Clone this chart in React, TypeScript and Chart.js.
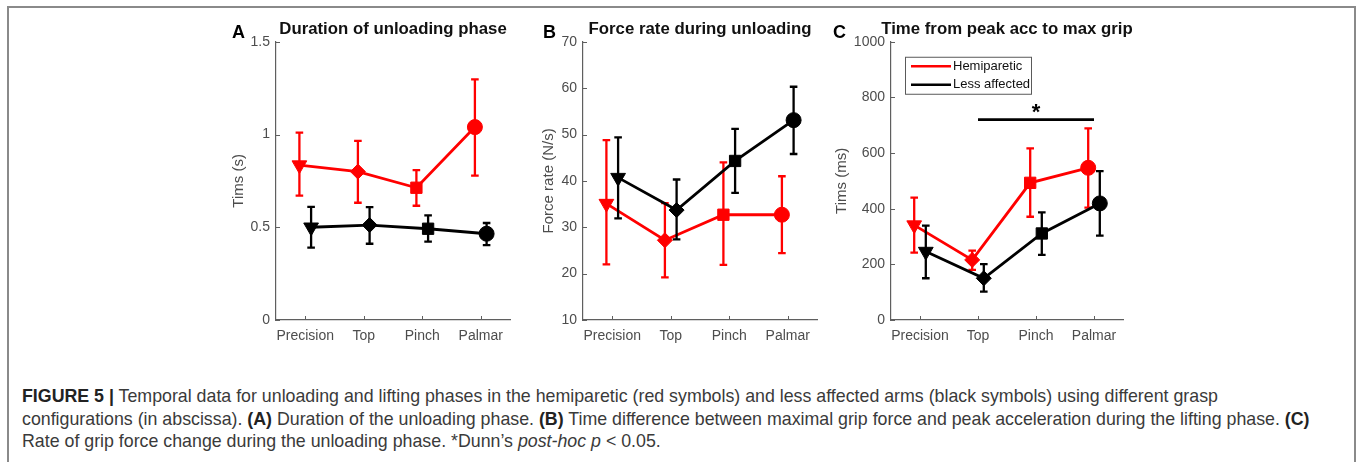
import React, { useEffect, useRef } from 'react';
import { Chart, registerables } from 'chart.js';

Chart.register(...registerables);

// ---------- data ----------
const categories = ['Precision', 'Top', 'Pinch', 'Palmar'];
const categoryPositions = [1, 2, 3, 4];
const seriesLabels = ['Hemiparetic', 'Less affected'];

// Panel A: duration of unloading phase (s)
const durationHemi = [0.835, 0.8, 0.713, 1.04];
const durationHemiLow = [0.67, 0.632, 0.616, 0.778];
const durationHemiHigh = [1.01, 0.966, 0.808, 1.297];
const durationLess = [0.5, 0.512, 0.492, 0.465];
const durationLessLow = [0.39, 0.411, 0.422, 0.404];
const durationLessHigh = [0.61, 0.609, 0.564, 0.523];
const durationTicks = [0, 0.5, 1, 1.5];

// Panel B: force rate during unloading (N/s)
const forceHemi = [35.1, 27.2, 32.7, 32.7];
const forceHemiLow = [22.0, 19.2, 21.9, 24.4];
const forceHemiHigh = [48.8, 35.2, 44.0, 41.0];
const forceLess = [40.7, 33.7, 44.3, 53.1];
const forceLessLow = [31.9, 27.4, 37.4, 45.8];
const forceLessHigh = [49.4, 40.3, 51.2, 60.3];
const forceTicks = [10, 20, 30, 40, 50, 60, 70];

// Panel C: time from peak acc to max grip (ms)
const timeHemi = [341, 216, 493, 547];
const timeHemiLow = [242, 180, 371, 404];
const timeHemiHigh = [440, 249, 617, 689];
const timeLess = [246, 150, 311, 419];
const timeLessLow = [150, 102, 234, 303];
const timeLessHigh = [339, 201, 387, 535];
const timeTicks = [0, 200, 400, 600, 800, 1000];
const sigFrom = 'Top';
const sigTo = 'Palmar';
const sigValue = 720;
const sigMark = '*';

// ---------- style ----------
const FONT = "'Liberation Sans', Arial, Helvetica, sans-serif";
const RED = '#ff0000';
const BLACK = '#000000';
const AXIS = '#5f5f5f';
const TICK = '#4d4d4d';
const DODGE = 0.1;
const CANVAS_H = 350;
const markerStyles = ['triangle', 'rectRot', 'rect', 'circle'];
const markerRotations = [180, 0, 0, 0];
const markerRadii = [8.5, 7.5, 8, 7.5];

Chart.defaults.font.family = FONT;

type PanelSpec = {
  letter: string;
  title: string;
  yTitle: string;
  hemi: number[];
  hemiLow: number[];
  hemiHigh: number[];
  less: number[];
  lessLow: number[];
  lessHigh: number[];
  yTicks: number[];
  left: number;
  axisWidth: number;
  plotWidth: number;
  letterOffset: number;
  legend: boolean;
  sig: boolean;
};

const panels: PanelSpec[] = [
  {
    letter: 'A', title: 'Duration of unloading phase', yTitle: 'Tims (s)',
    hemi: durationHemi, hemiLow: durationHemiLow, hemiHigh: durationHemiHigh,
    less: durationLess, lessLow: durationLessLow, lessHigh: durationLessHigh,
    yTicks: durationTicks, left: 226, axisWidth: 50, plotWidth: 234, letterOffset: 44,
    legend: false, sig: false,
  },
  {
    letter: 'B', title: 'Force rate during unloading', yTitle: 'Force rate (N/s)',
    hemi: forceHemi, hemiLow: forceHemiLow, hemiHigh: forceHemiHigh,
    less: forceLess, lessLow: forceLessLow, lessHigh: forceLessHigh,
    yTicks: forceTicks, left: 536, axisWidth: 47, plotWidth: 234, letterOffset: 40,
    legend: false, sig: false,
  },
  {
    letter: 'C', title: 'Time from peak acc to max grip', yTitle: 'Tims (ms)',
    hemi: timeHemi, hemiLow: timeHemiLow, hemiHigh: timeHemiHigh,
    less: timeLess, lessLow: timeLessLow, lessHigh: timeLessHigh,
    yTicks: timeTicks, left: 829, axisWidth: 62, plotWidth: 232, letterOffset: 58,
    legend: true, sig: true,
  },
];

function makeDecorPlugin(panel: PanelSpec) {
  return {
    id: 'panelDecor',
    beforeDatasetDraw(chart: any, args: any) {
      const ds = chart.data.datasets[args.index];
      const ys = chart.scales.y;
      const ctx = chart.ctx;
      ctx.save();
      ctx.strokeStyle = ds.borderColor;
      ctx.lineWidth = 2.3;
      args.meta.data.forEach((pt: any, i: number) => {
        const x = pt.x;
        const yl = ys.getPixelForValue(ds.errLow[i]);
        const yh = ys.getPixelForValue(ds.errHigh[i]);
        ctx.beginPath();
        ctx.moveTo(x, yl);
        ctx.lineTo(x, yh);
        ctx.moveTo(x - 3.8, yl);
        ctx.lineTo(x + 3.8, yl);
        ctx.moveTo(x - 3.8, yh);
        ctx.lineTo(x + 3.8, yh);
        ctx.stroke();
      });
      ctx.restore();
    },
    afterDraw(chart: any) {
      const ctx = chart.ctx;
      const area = chart.chartArea;
      const xs = chart.scales.x;
      const ys = chart.scales.y;
      ctx.save();
      // inward tick marks
      ctx.strokeStyle = AXIS;
      ctx.lineWidth = 1;
      ctx.beginPath();
      xs.ticks.forEach((t: any) => {
        const px = Math.round(xs.getPixelForValue(t.value)) + 0.5;
        ctx.moveTo(px, area.bottom);
        ctx.lineTo(px, area.bottom - 4);
      });
      ys.ticks.forEach((t: any) => {
        const py = Math.round(ys.getPixelForValue(t.value)) + 0.5;
        ctx.moveTo(area.left, py);
        ctx.lineTo(area.left + 4, py);
      });
      ctx.stroke();

      // panel letter
      ctx.fillStyle = '#000';
      ctx.font = `bold 18px ${FONT}`;
      ctx.textAlign = 'left';
      ctx.textBaseline = 'middle';
      ctx.fillText(panel.letter, area.left - panel.letterOffset, 33);

      // significance bar
      if (panel.sig) {
        const x1 = xs.getPixelForValue(categoryPositions[categories.indexOf(sigFrom)]);
        const x2 = xs.getPixelForValue(categoryPositions[categories.indexOf(sigTo)]);
        const yb = ys.getPixelForValue(sigValue);
        ctx.strokeStyle = '#000';
        ctx.lineWidth = 2.6;
        ctx.beginPath();
        ctx.moveTo(x1, yb);
        ctx.lineTo(x2, yb);
        ctx.stroke();
        ctx.fillStyle = '#000';
        ctx.font = `bold 22px ${FONT}`;
        ctx.textAlign = 'center';
        ctx.textBaseline = 'alphabetic';
        ctx.fillText(sigMark, (x1 + x2) / 2, yb - 1);
      }

      // legend box
      if (panel.legend) {
        const lx = area.left + 14;
        const ly = area.top + 15;
        const lw = 126;
        const lh = 37;
        ctx.fillStyle = '#fff';
        ctx.fillRect(lx, ly, lw, lh);
        ctx.strokeStyle = '#5a5a5a';
        ctx.lineWidth = 1;
        ctx.strokeRect(lx + 0.5, ly + 0.5, lw, lh);
        chart.data.datasets.forEach((ds: any, i: number) => {
          const yy = ly + 9.5 + i * 18.5;
          ctx.strokeStyle = ds.borderColor;
          ctx.lineWidth = 2.6;
          ctx.beginPath();
          ctx.moveTo(lx + 6, yy);
          ctx.lineTo(lx + 46, yy);
          ctx.stroke();
          ctx.fillStyle = '#111';
          ctx.font = `13px ${FONT}`;
          ctx.textAlign = 'left';
          ctx.textBaseline = 'middle';
          ctx.fillText(ds.label, lx + 48, yy);
        });
      }
      ctx.restore();
    },
  };
}

function buildConfig(panel: PanelSpec): any {
  const makeSeries = (label: string, vals: number[], lo: number[], hi: number[], color: string, dx: number, order: number) => ({
    label,
    data: vals.map((v, i) => ({ x: categoryPositions[i] + dx, y: v })),
    errLow: lo,
    errHigh: hi,
    borderColor: color,
    backgroundColor: color,
    borderWidth: 2.8,
    pointStyle: markerStyles,
    pointRotation: markerRotations,
    pointRadius: markerRadii,
    pointBorderWidth: 1,
    pointBackgroundColor: color,
    pointBorderColor: color,
    tension: 0,
    order,
    clip: false,
    yAxisID: 'y',
  });
  const yMin = panel.yTicks[0];
  const yMax = panel.yTicks[panel.yTicks.length - 1];
  return {
    type: 'line',
    data: {
      datasets: [
        makeSeries(seriesLabels[0], panel.hemi, panel.hemiLow, panel.hemiHigh, RED, -DODGE, 2),
        makeSeries(seriesLabels[1], panel.less, panel.lessLow, panel.lessHigh, BLACK, DODGE, 1),
      ],
    },
    options: {
      responsive: false,
      animation: false,
      events: [],
      layout: { padding: 0 },
      plugins: {
        legend: { display: false },
        tooltip: { enabled: false },
        title: {
          display: true,
          text: panel.title,
          color: '#111',
          font: { family: FONT, size: 16.8, weight: 'bold' },
          padding: { top: 19, bottom: 2.6 },
        },
      },
      scales: {
        x: {
          type: 'linear',
          min: 0.5,
          max: 4.5,
          grid: { display: false, drawTicks: false, tickLength: 0 },
          border: { display: true, color: AXIS, width: 1.2 },
          afterBuildTicks: (s: any) => {
            s.ticks = categoryPositions.map((v) => ({ value: v }));
          },
          ticks: {
            autoSkip: false,
            maxRotation: 0,
            padding: 8,
            color: TICK,
            font: { family: FONT, size: 14 },
            callback: (_v: any, i: number) => categories[i],
          },
          afterFit: (s: any) => {
            s.height = 30;
          },
        },
        y: {
          type: 'linear',
          position: 'left',
          min: yMin,
          max: yMax,
          grid: { display: false, drawTicks: false, tickLength: 0 },
          border: { display: true, color: AXIS, width: 1.2 },
          afterBuildTicks: (s: any) => {
            s.ticks = panel.yTicks.map((v) => ({ value: v }));
          },
          ticks: {
            padding: 6,
            color: TICK,
            font: { family: FONT, size: 14 },
            callback: (v: any) => String(v),
          },
          title: {
            display: true,
            text: panel.yTitle,
            color: TICK,
            font: { family: FONT, size: 15 },
            padding: { top: 4, bottom: 0 },
          },
          afterFit: (s: any) => {
            s.width = panel.axisWidth;
          },
        },
        spacer: {
          type: 'linear',
          position: 'right',
          display: true,
          grid: { display: false, drawTicks: false, tickLength: 0 },
          border: { display: false },
          ticks: { display: false },
          afterFit: (s: any) => {
            s.width = panel.axisWidth;
          },
        },
      },
    },
    plugins: [makeDecorPlugin(panel)],
  };
}

function PanelChart({ panel }: { panel: PanelSpec }) {
  const ref = useRef<HTMLCanvasElement>(null);
  useEffect(() => {
    const chart = new Chart(ref.current as HTMLCanvasElement, buildConfig(panel));
    return () => chart.destroy();
  }, [panel]);
  const width = panel.plotWidth + 2 * panel.axisWidth;
  return (
    <canvas
      ref={ref}
      width={width}
      height={CANVAS_H}
      style={{ position: 'absolute', left: panel.left, top: 0, width, height: CANVAS_H }}
    />
  );
}

export default function App() {
  return (
    <div
      style={{
        position: 'absolute',
        left: 0,
        top: 0,
        width: 1357,
        height: 462,
        overflow: 'hidden',
        background: '#fff',
      }}
    >
      <div
        style={{
          position: 'absolute',
          left: 7,
          top: 6,
          width: 1349,
          height: 520,
          boxSizing: 'border-box',
          borderLeft: '2px solid #8a8a8a',
          borderTop: '2px solid #8a8a8a',
          borderRight: '2px solid #8a8a8a',
        }}
      />
      {panels.map((p) => (
        <PanelChart key={p.letter} panel={p} />
      ))}
      <div
        style={{
          position: 'absolute',
          left: 22,
          top: 385,
          fontFamily: FONT,
          fontSize: 17.8,
          lineHeight: '22.5px',
          color: '#3a3a3a',
          whiteSpace: 'nowrap',
        }}
      >
        <div>
          <b style={{ color: '#222' }}>FIGURE 5 |</b> Temporal data for unloading and lifting phases in the hemiparetic (red symbols) and less affected arms (black symbols) using different grasp
        </div>
        <div>
          configurations (in abscissa). <b style={{ color: '#222' }}>(A)</b> Duration of the unloading phase. <b style={{ color: '#222' }}>(B)</b> Time difference between maximal grip force and peak acceleration during the lifting phase. <b style={{ color: '#222' }}>(C)</b>
        </div>
        <div>
          Rate of grip force change during the unloading phase. *Dunn’s <i>post-hoc p</i> &lt; 0.05.
        </div>
      </div>
    </div>
  );
}
